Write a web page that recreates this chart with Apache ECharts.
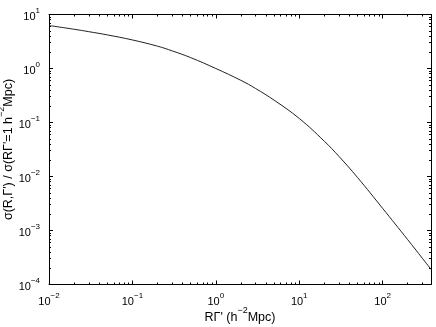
<!DOCTYPE html>
<html>
<head>
<meta charset="utf-8">
<script src="https://cdn.jsdelivr.net/npm/echarts@6/dist/echarts.min.js"></script>
<style>
  html, body { margin: 0; padding: 0; background: #fff; }
  #main { width: 436px; height: 327px; }
</style>
</head>
<body>
<div id="main"></div>
<script>
// R Gamma (h^-2 Mpc) and normalised sigma
const rValues = [0.01, 0.02, 0.03, 0.05, 0.1, 0.2, 0.3, 0.5, 1, 2, 3, 5, 10, 20, 30, 50, 100, 200, 300, 380];
const sigmaValues = [6.25, 5.33, 4.81, 4.19, 3.38, 2.59, 2.12, 1.59, 1.0, 0.603, 0.426, 0.259, 0.119,
                     0.0450, 0.0235, 0.00959, 0.00257, 0.000675, 0.000305, 0.000191];
// tick labels (decades)
const xDecades = [0.01, 0.1, 1, 10, 100];
const yDecades = [0.0001, 0.001, 0.01, 0.1, 1, 10];

const X_MIN = 0.01, X_MAX = 380;
const Y_MIN = 0.0001, Y_MAX = 10;

// minor ticks 2..9 in each decade
function minorTicks(lo, hi){
    const out = [];
    for (let e = Math.floor(Math.log10(lo)); e <= Math.ceil(Math.log10(hi)); e++) {
        for (let k = 2; k <= 9; k++) {
            const v = k * Math.pow(10, e);
            if (v > lo && v < hi) out.push(v);
        }
    }
    return out;
}

const chart = echarts.init(document.getElementById('main'));
const font = 'Liberation Sans, Arial, Helvetica, sans-serif';
const supRich = {
    b: { fontSize: 11, fontFamily: font, color: '#000', lineHeight: 16, verticalAlign: 'bottom' },
    s: { fontSize: 8, fontFamily: font, color: '#000', lineHeight: 9, verticalAlign: 'top' }
};
function powLabel(v){
    const e = Math.round(Math.log10(v));
    return '{b|10}{s|' + (e < 0 ? '\u2212' + (-e) : e) + '}';
}
const nameRich = {
    t: { fontSize: 12.5, fontFamily: font, color: '#000', lineHeight: 18, verticalAlign: 'bottom' },
    s: { fontSize: 9, fontFamily: font, color: '#000', lineHeight: 10, verticalAlign: 'top' }
};

function xAxisDef(pos, major, showLabel){
    return {
        type: 'log', logBase: 10, position: pos, min: X_MIN, max: X_MAX,
        axisLine: { show: major, onZero: false, lineStyle: { color: '#000', width: 1 } },
        axisTick: { show: true, inside: true, length: major ? 4 : 2,
                    customValues: major ? xDecades : minorTicks(X_MIN, X_MAX),
                    lineStyle: { color: '#000' } },
        axisLabel: { show: showLabel, customValues: xDecades, margin: 7,
                     formatter: powLabel, rich: supRich },
        splitLine: { show: false },
        name: showLabel ? '{t|R\u0393\' (h}{s|\u22122}{t|Mpc)}' : '',
        nameLocation: 'middle', nameGap: 22, nameMoveOverlap: false,
        nameTextStyle: { fontSize: 12.5, fontFamily: font, color: '#000', align: 'center', rich: nameRich }
    };
}
function yAxisDef(pos, major, showLabel){
    return {
        type: 'log', logBase: 10, position: pos, min: Y_MIN, max: Y_MAX,
        axisLine: { show: major, onZero: false, lineStyle: { color: '#000', width: 1 } },
        axisTick: { show: true, inside: true, length: major ? 4 : 2,
                    customValues: major ? yDecades : minorTicks(Y_MIN, Y_MAX),
                    lineStyle: { color: '#000' } },
        axisLabel: { show: showLabel, customValues: yDecades, margin: 9,
                     formatter: powLabel, rich: supRich },
        splitLine: { show: false },
        name: showLabel ? '{t|\u03C3(R,\u0393\') / \u03C3(R\u0393\'=1 h}{s|\u22122}{t|Mpc)}' : '',
        nameLocation: 'middle', nameGap: 34, nameRotate: 90, nameMoveOverlap: false,
        nameTextStyle: { fontSize: 12.5, fontFamily: font, color: '#000', align: 'center', rich: nameRich }
    };
}

const option = {
    animation: false,
    backgroundColor: '#fff',
    grid: { left: 49, right: 5, top: 14.5, bottom: 42.5, containLabel: false, outerBoundsMode: 'none' },
    xAxis: [
        xAxisDef('bottom', true, true),
        xAxisDef('bottom', false, false),
        xAxisDef('top', true, false),
        xAxisDef('top', false, false)
    ],
    yAxis: [
        yAxisDef('left', true, true),
        yAxisDef('left', false, false),
        yAxisDef('right', true, false),
        yAxisDef('right', false, false)
    ],
    series: [{
        type: 'line',
        xAxisIndex: 0, yAxisIndex: 0,
        data: rValues.map((r, i) => [r, sigmaValues[i]]),
        showSymbol: false,
        smooth: 0.4,
        lineStyle: { color: '#222', width: 1 }
    }]
};
chart.setOption(option);
</script>
</body>
</html>
